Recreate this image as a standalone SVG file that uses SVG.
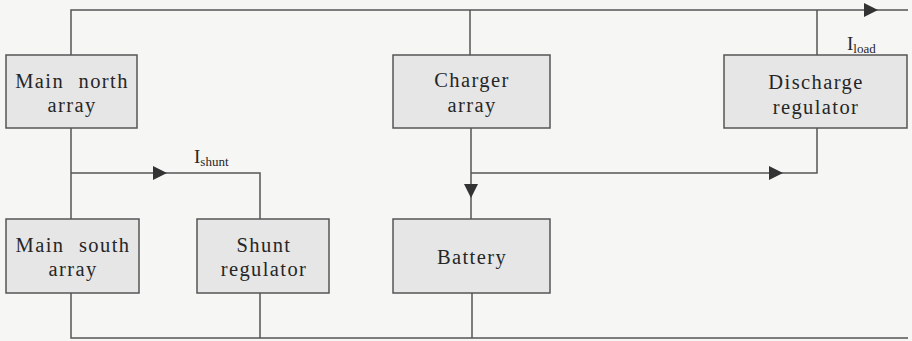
<svg xmlns="http://www.w3.org/2000/svg" width="912" height="341" viewBox="0 0 912 341">
<style>
.bg{fill:#f6f6f4}
.box{fill:#e6e6e6;stroke:#555;stroke-width:1.5}
.w{fill:none;stroke:#555;stroke-width:1.5}
.t{font-size:20.5px;fill:#262626;text-anchor:middle;letter-spacing:1.4px}
.l{fill:#262626}
</style>
<defs>
<marker id="arr" viewBox="0 0 14 14" refX="14" refY="7" markerWidth="14" markerHeight="14" markerUnits="userSpaceOnUse" orient="auto">
<path d="M0,0 L14,7 L0,14 Z" fill="#333"/>
</marker>
</defs>
<rect class="bg" x="0" y="0" width="912" height="341"/>
<g id="connectors">
<path class="w" d="M71,55 V10 H878" marker-end="url(#arr)"/>
<path class="w" d="M878,10 H908"/>
<path class="w" d="M470,10 V55"/>
<path class="w" d="M817,10 V55"/>
<path class="w" d="M71,128 V219"/>
<path class="w" d="M71,173 H167" marker-end="url(#arr)"/>
<path class="w" d="M167,173 H260 V219"/>
<path class="w" d="M471,128 V198" marker-end="url(#arr)"/>
<path class="w" d="M471,198 V219"/>
<path class="w" d="M471,173 H783" marker-end="url(#arr)"/>
<path class="w" d="M783,173 H817 V128"/>
<path class="w" d="M71,293 V338 H908"/>
<path class="w" d="M260,293 V338"/>
<path class="w" d="M472,293 V338"/>
</g>
<g font-family="'Liberation Serif', 'DejaVu Serif', serif">
<g id="main-north">
<rect class="box" x="6" y="55" width="131" height="73"/>
<text class="t" x="72" y="88" word-spacing="8">Main north</text>
<text class="t" x="72" y="112">array</text>
</g>
<g id="charger">
<rect class="box" x="393" y="55" width="157" height="73"/>
<text class="t" x="472" y="87">Charger</text>
<text class="t" x="472" y="112">array</text>
</g>
<g id="discharge">
<rect class="box" x="724" y="55" width="183" height="73"/>
<text class="t" x="816" y="89">Discharge</text>
<text class="t" x="816" y="114">regulator</text>
</g>
<g id="main-south">
<rect class="box" x="6" y="219" width="133" height="74"/>
<text class="t" x="73" y="252" word-spacing="8">Main south</text>
<text class="t" x="73" y="276">array</text>
</g>
<g id="shunt">
<rect class="box" x="197" y="219" width="132" height="74"/>
<text class="t" x="264" y="252">Shunt</text>
<text class="t" x="264" y="276">regulator</text>
</g>
<g id="battery">
<rect class="box" x="393" y="219" width="157" height="74"/>
<text class="t" x="472" y="264">Battery</text>
</g>
<g id="labels">
<text class="l" x="194" y="163" font-size="19">I<tspan font-size="13" dy="3">shunt</tspan></text>
<text class="l" x="847" y="50" font-size="19">I<tspan font-size="13" dy="3">load</tspan></text>
</g>
</g>
</svg>
